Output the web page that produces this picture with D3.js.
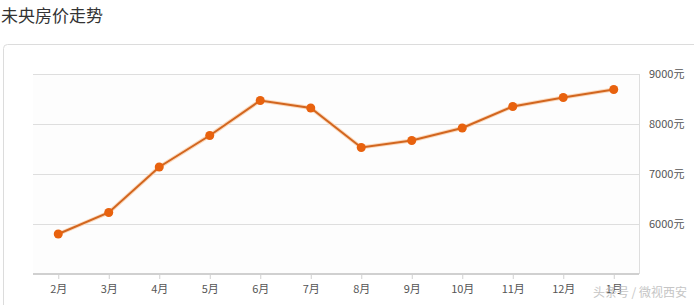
<!DOCTYPE html>
<html>
<head>
<meta charset="utf-8">
<script src="https://cdnjs.cloudflare.com/ajax/libs/d3/7.8.5/d3.min.js"></script>
<style>
  body { margin: 0; background: #fff; }
  svg { display: block; }
</style>
</head>
<body>
<svg id="chart"></svg>
<script>
// data
var months = ["2月", "3月", "4月", "5月", "6月", "7月", "8月", "9月", "10月", "11月", "12月", "1月"];
var prices = [5800, 6230, 7140, 7770, 8470, 8320, 7530, 7670, 7920, 8350, 8530, 8690];
var yTicks = [6000, 7000, 8000, 9000];

var width = 694, height = 305;
var svg = d3.select("#chart").attr("width", width).attr("height", height);
var font = "'Noto Sans CJK SC', 'Microsoft YaHei', sans-serif";

// title
svg.append("text")
  .attr("x", 1)
  .attr("y", 22)
  .style("font-family", font)
  .style("font-size", "17px")
  .style("fill", "#333")
  .text("未央房价走势");

// card frame (runs past right / bottom edge)
svg.append("rect")
  .attr("x", 3.5)
  .attr("y", 44.5)
  .attr("width", 720)
  .attr("height", 300)
  .attr("rx", 4)
  .style("fill", "#fff")
  .style("stroke", "#dcdcdc");

var plotL = 33, plotR = 639, plotT = 74, plotB = 274;

var x = d3.scalePoint()
  .domain(months)
  .range([plotL, plotR])
  .padding(0.5);

var y = d3.scaleLinear()
  .domain([5000, 9000])
  .range([plotB, plotT]);

// plot background
svg.append("rect")
  .attr("x", plotL)
  .attr("y", plotT)
  .attr("width", plotR - plotL)
  .attr("height", plotB - plotT)
  .style("fill", "#fdfdfd");

// grid
var grid = svg.append("g");
grid.selectAll("line")
  .data(yTicks)
  .enter().append("line")
  .attr("x1", plotL)
  .attr("x2", plotR)
  .attr("y1", function(d) { return Math.round(y(d)) + 0.5; })
  .attr("y2", function(d) { return Math.round(y(d)) + 0.5; })
  .style("stroke", "#dedede");

// right border of plot
svg.append("line")
  .attr("x1", plotR + 0.5).attr("x2", plotR + 0.5)
  .attr("y1", plotT).attr("y2", plotB)
  .style("stroke", "#dedede");

// y labels on the right
var yAxis = d3.axisRight(y)
  .tickValues(yTicks)
  .tickSize(0)
  .tickPadding(10)
  .tickFormat(function(d) { return d + "元"; });
var ya = svg.append("g")
  .attr("transform", "translate(" + plotR + ",0)")
  .call(yAxis);
ya.select(".domain").remove();
ya.selectAll("text")
  .style("font-family", font)
  .style("font-size", "11px")
  .style("fill", "#555");

// x axis
var xAxis = d3.axisBottom(x)
  .tickSize(5)
  .tickPadding(6);
var xa = svg.append("g")
  .attr("transform", "translate(0," + plotB + ")")
  .call(xAxis);
xa.select(".domain")
  .attr("d", "M" + plotL + ",0H" + plotR)
  .style("stroke", "#d0d0d0")
  .style("stroke-width", 2);
xa.selectAll(".tick line").style("stroke", "#d0d0d0");
xa.selectAll("text")
  .style("font-family", font)
  .style("font-size", "11px")
  .style("fill", "#555");

// line
var line = d3.line()
  .x(function(d, i) { return x(months[i]); })
  .y(function(d) { return y(d); });

svg.append("path")
  .datum(prices)
  .attr("d", line)
  .style("fill", "none")
  .style("stroke", "#fbd9bd")
  .style("stroke-width", 4);
svg.append("path")
  .datum(prices)
  .attr("d", line)
  .style("fill", "none")
  .style("stroke", "#d2661f")
  .style("stroke-width", 2);

svg.append("g").selectAll("circle")
  .data(prices)
  .enter().append("circle")
  .attr("cx", function(d, i) { return x(months[i]); })
  .attr("cy", function(d) { return y(d); })
  .attr("r", 4.5)
  .style("fill", "#e8620e");

// watermark
svg.append("text")
  .attr("x", 687)
  .attr("y", 297)
  .attr("text-anchor", "end")
  .style("font-family", font)
  .style("font-size", "12px")
  .style("fill", "#bbb")
  .style("opacity", 0.85)
  .text("头条号 / 微视西安");
</script>
</body>
</html>
